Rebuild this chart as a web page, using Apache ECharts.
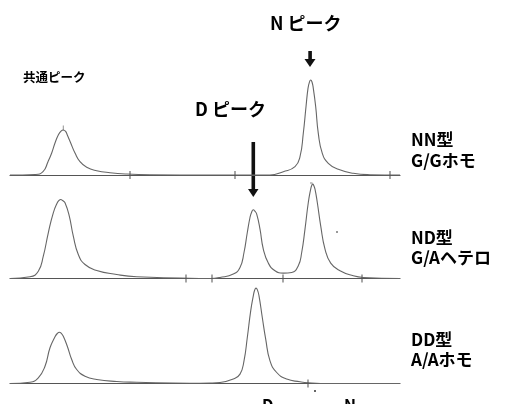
<!DOCTYPE html>
<html><head><meta charset="utf-8">
<script src="https://cdn.jsdelivr.net/npm/echarts@6/dist/echarts.min.js"></script>
<style>html,body{margin:0;padding:0;background:#fff}#c{width:506px;height:404px}</style>
</head><body><div id="c"></div>
<script>
// Retention time (arbitrary units) and signal heights
const trace1Time = [0, 25, 33, 38, 41.7, 45, 48.3, 51, 53.3, 55.6, 57.3, 60.7, 65, 70, 76.7, 86.7, 100, 116.7, 140, 200, 260, 273.3, 285, 290, 293.3, 296, 298, 299.5, 300.7, 302, 303.3, 305.7, 308.3, 312.3, 318.3, 328.3, 343.3, 360, 390];
const trace1Signal = [0, 0.5, 3.3, 13.3, 22, 32, 40, 43.8, 45, 43.6, 40, 32, 22, 13.3, 7.7, 4.3, 2.3, 1, 0.3, 0, 0, 3.3, 8.3, 18.3, 41.7, 68.3, 86.7, 93.2, 95, 93, 86.7, 68.3, 41.7, 21.7, 11.7, 5.7, 1.7, 0.3, 0];

const trace2Time = [0, 20, 28.3, 33.3, 38.3, 43.3, 47.3, 49, 50.7, 52.6, 55, 59.3, 63.3, 68.3, 75, 86.7, 106.7, 126.7, 170, 200, 210, 223.3, 230, 234, 237.3, 240, 241.8, 243.3, 244.9, 246.7, 250, 253.3, 258.3, 265, 273.3, 281.7, 288.3, 291.7, 295, 298.3, 300.7, 301.7, 302.7, 303.8, 305, 307.3, 310.7, 315, 320.7, 330, 343.3, 353.3, 390];
const trace2Signal = [0, 1.7, 7.3, 22.3, 45.7, 65.7, 75.7, 78, 79, 78, 75.7, 62.3, 42.3, 24, 14, 8, 4, 1.7, 0.5, 0, 1, 4.4, 11, 26, 46, 61, 66.8, 68.7, 67.3, 64.4, 49.4, 29.4, 15.4, 7.7, 5.4, 6, 12.7, 26, 49.4, 76, 89.4, 93, 94.4, 93, 89.4, 76, 52.7, 29.4, 15.4, 7.7, 2.7, 1, 0];

const trace3Time = [0, 20, 28.3, 35, 40, 45, 47.3, 49.3, 51.3, 53.3, 57.3, 61.7, 66.7, 75, 86.7, 106.7, 126.7, 180, 200, 210, 223.3, 230, 234, 237.3, 240.7, 243.3, 244.7, 246, 247.4, 249, 252.3, 255.7, 260, 266.7, 276.7, 290, 298.3, 320, 390];
const trace3Signal = [0, 1.3, 5.7, 17.3, 35.7, 46.7, 50, 51.3, 50.2, 47.3, 37.3, 24, 14, 7.3, 4, 2, 1.3, 0.3, 0.5, 1, 4.4, 9.4, 22.7, 46, 72.7, 87.7, 93.5, 95.4, 93.6, 87.7, 66, 44.4, 22.7, 11, 4.4, 1.7, 0.7, 0, 0];

// integration tick marks on each baseline
const trace1Ticks = [120, 225, 380];
const trace2Ticks = [176, 202, 273, 352];
const trace3Ticks = [298];

const genotypeLabels = [["NN型", "G/Gホモ"], ["ND型", "G/Aヘテロ"], ["DD型", "A/Aホモ"]];

const times = [trace1Time, trace2Time, trace3Time];
const signals = [trace1Signal, trace2Signal, trace3Signal];
const ticks = [trace1Ticks, trace2Ticks, trace3Ticks];

const gridTops = [75, 178.5, 283.5];
const grids = [], xAxes = [], yAxes = [], series = [];
for (let i = 0; i < 3; i++) {
  grids.push({left: 10, width: 390, top: gridTops[i], height: 100});
  xAxes.push({type: 'value', gridIndex: i, min: 0, max: 390,
    axisLine: {show: true, lineStyle: {color: '#555', width: 1.2}},
    axisTick: {show: false}, axisLabel: {show: false}, splitLine: {show: false}});
  yAxes.push({type: 'value', gridIndex: i, min: 0, max: 100, show: false, splitLine: {show: false}});
  series.push({type: 'line', xAxisIndex: i, yAxisIndex: i, smooth: 0.5, clip: false,
    showSymbol: false, silent: true, lineStyle: {color: '#666', width: 1.1},
    data: times[i].map((t, j) => [t, signals[i][j]])});
  series.push({type: 'scatter', xAxisIndex: i, yAxisIndex: i, symbol: 'rect', symbolSize: [1.3, 8],
    itemStyle: {color: '#555'}, silent: true, z: 3, clip: false,
    data: ticks[i].map(t => [t, 0])});
}
// apex mark on the common peak of the first trace
series.push({type: 'scatter', xAxisIndex: 0, yAxisIndex: 0, symbol: 'rect', symbolSize: [1, 5],
  itemStyle: {color: '#777'}, silent: true, data: [[53.3, 47]]});

const F = '"Noto Sans CJK JP", "Noto Sans", sans-serif';
const graphic = [
  {type: 'text', style: {text: '共通ピーク', x: 23, y: 77, font: 'bold 12.5px ' + F, fill: '#000', verticalAlign: 'middle'}},
  {type: 'text', style: {text: 'D ピーク', x: 195, y: 109, font: 'bold 18px ' + F, fill: '#000', verticalAlign: 'middle'}},
  {type: 'text', style: {text: 'N ピーク', x: 270, y: 23, font: 'bold 18px ' + F, fill: '#000', verticalAlign: 'middle'}},
  // arrows
  {type: 'rect', shape: {x: 308.3, y: 51, width: 3.6, height: 9}, style: {fill: '#111'}},
  {type: 'polygon', shape: {points: [[304.5, 59], [315.5, 59], [310, 67]]}, style: {fill: '#111'}},
  {type: 'rect', shape: {x: 251.5, y: 142, width: 3.6, height: 49}, style: {fill: '#111'}},
  {type: 'polygon', shape: {points: [[248, 189], [258.5, 189], [253.3, 197]]}, style: {fill: '#111'}},
  // cut-off texts at bottom edge
  {type: 'text', style: {text: 'D', x: 262, y: 397, font: 'bold 16px ' + F, fill: '#000', verticalAlign: 'top'}},
  {type: 'text', style: {text: 'N', x: 344, y: 397, font: 'bold 16px ' + F, fill: '#000', verticalAlign: 'top'}},
  {type: 'circle', shape: {cx: 337, cy: 232, r: 1}, style: {fill: '#777'}},
  {type: 'circle', shape: {cx: 315, cy: 391, r: 1}, style: {fill: '#333'}},
  {type: 'rect', shape: {x: 310, y: 182.5, width: 2.5, height: 1}, style: {fill: '#888'}}
];
const labelY = [[140, 161], [238, 258], [340, 360]];
genotypeLabels.forEach((pair, i) => {
  pair.forEach((txt, k) => {
    graphic.push({type: 'text', style: {text: txt, x: 411, y: labelY[i][k], font: 'bold 17px ' + F, fill: '#000', verticalAlign: 'middle'}});
  });
});

const chart = echarts.init(document.getElementById('c'), null, {renderer: 'canvas'});
chart.setOption({animation: false, backgroundColor: '#fff', grid: grids, xAxis: xAxes, yAxis: yAxes, series: series, graphic: graphic});
</script></body></html>
